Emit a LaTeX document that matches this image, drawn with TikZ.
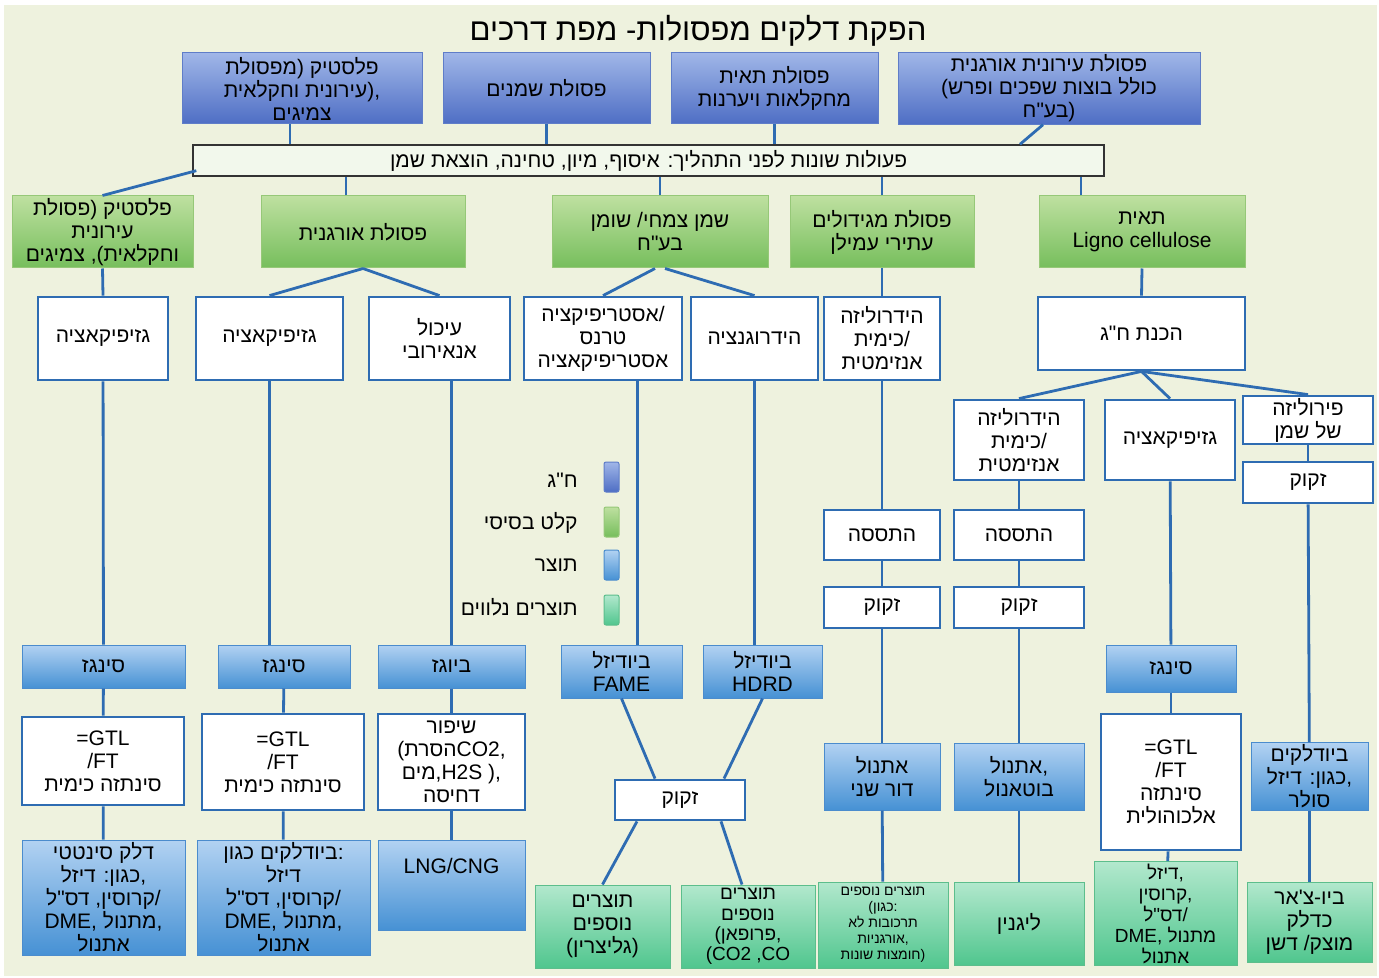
\documentclass[tikz,border=0pt]{standalone}
\usepackage{fontspec}
\newfontfamily\hebfont[Script=Hebrew]{Liberation Sans}
\newfontfamily\latfont{Liberation Sans}
\TeXXeTstate=1
\usetikzlibrary{calc}

\newcommand{\hebl}[1]{{\hebfont\beginR #1\endR}}

\definecolor{bgcol}{RGB}{238,242,222}
\definecolor{rawtop}{RGB}{160,182,232}
\definecolor{rawbot}{RGB}{78,110,196}
\definecolor{rawline}{RGB}{95,125,200}
\definecolor{feedtop}{RGB}{190,224,160}
\definecolor{feedbot}{RGB}{118,190,92}
\definecolor{feedline}{RGB}{150,200,120}
\definecolor{prodtop}{RGB}{178,210,242}
\definecolor{prodbot}{RGB}{70,145,212}
\definecolor{prodline}{RGB}{75,140,205}
\definecolor{sidetop}{RGB}{178,232,205}
\definecolor{sidebot}{RGB}{80,198,142}
\definecolor{sideline}{RGB}{92,190,140}
\definecolor{linkcol}{RGB}{46,108,178}
\definecolor{prepfill}{RGB}{242,248,236}

\begin{document}
\begin{tikzpicture}[x=0.5pt, y=-0.5pt,
  every node/.style={font=\latfont\fontsize{10.5}{11.5}\selectfont, align=center, inner sep=1pt, text=black},
  rawbox/.style={draw=rawline, line width=0.5pt, top color=rawtop, bottom color=rawbot},
  feedbox/.style={draw=feedline, line width=0.5pt, top color=feedtop, bottom color=feedbot},
  procbox/.style={draw=linkcol, line width=1.4pt, fill=white},
  prodbox/.style={draw=prodline, line width=0.5pt, top color=prodtop, bottom color=prodbot},
  sidebox/.style={draw=sideline, line width=0.5pt, top color=sidetop, bottom color=sidebot},
  swatch/.style={minimum width=7.5pt, minimum height=15pt, inner sep=0pt, rounded corners=1pt},
  legendtext/.style={anchor=east},
  link/.style={draw=linkcol, line width=1.4pt}
]

\useasboundingbox (0,0) rectangle (1379,978);
\fill[white] (0,0) rectangle (1379,978);
\fill[bgcol] (4,5) rectangle (1377,976);

\node[font=\latfont\fontsize{15.5}{17}\selectfont] (title) at (698,31) {\hebl{הפקת דלקים מפסולות- מפת דרכים}};

% raw material row
\node[rawbox, minimum width=120pt, minimum height=35.5pt] (rawplastic) at (302,88.5) {\hebl{פלסטיק (מפסולת}\\\hebl{עירונית וחקלאית}),\\\hebl{צמיגים}};
\node[rawbox, minimum width=103.5pt, minimum height=35.5pt] (rawoil) at (546.5,88.5) {\hebl{פסולת שמנים}};
\node[rawbox, minimum width=103.5pt, minimum height=35.5pt] (rawcellulose) at (774.5,88.5) {\hebl{פסולת תאית}\\\hebl{מחקלאות ויערנות}};
\node[rawbox, minimum width=151pt, minimum height=35.5pt] (raworganic) at (1049,88.5) {\hebl{פסולת עירונית אורגנית}\\(\hebl{כולל בוצות שפכים ופרש}\\\hebl{בע"ח})};

\node[draw=black!80, line width=0.7pt, fill=prepfill, minimum width=455.5pt, minimum height=15.5pt] (prep) at (648.5,160.5) {\hebl{פעולות שונות לפני התהליך: איסוף, מיון, טחינה, הוצאת שמן}};

% basic feed row
\node[feedbox, minimum width=90.5pt, minimum height=36pt] (inplastic) at (102.5,232) {\hebl{פלסטיק (פסולת}\\\hebl{עירונית}\\\hebl{וחקלאית), צמיגים}};
\node[feedbox, minimum width=102pt, minimum height=36pt] (inorganic) at (363,232) {\hebl{פסולת אורגנית}};
\node[feedbox, minimum width=108pt, minimum height=36pt] (inoil) at (660,232) {\hebl{שמן צמחי/ שומן}\\\hebl{בע"ח}};
\node[feedbox, minimum width=92pt, minimum height=36pt] (instarch) at (882,232) {\hebl{פסולת מגידולים}\\\hebl{עתירי עמילן}};
\node[feedbox, minimum width=103pt, minimum height=36pt] (incellulose) at (1142,232) {\hebl{תאית}\\Ligno cellulose};

% first process row
\node[procbox, minimum width=65pt, minimum height=41.5pt] (gasA) at (103,338.5) {\hebl{גזיפיקאציה}};
\node[procbox, minimum width=73.5pt, minimum height=41.5pt] (gasB) at (269.5,338.5) {\hebl{גזיפיקאציה}};
\node[procbox, minimum width=70.5pt, minimum height=41.5pt] (anaerobic) at (439.5,338.5) {\hebl{עיכול}\\\hebl{אנאירובי}};
\node[procbox, minimum width=79pt, minimum height=41.5pt] (ester) at (603,338.5) {\hebl{אסטריפיקציה}/\\\hebl{טרנס}\\\hebl{אסטריפיקאציה}};
\node[procbox, minimum width=63.5pt, minimum height=41.5pt] (hydrogen) at (754.5,338.5) {\hebl{הידרוגנציה}};
\node[procbox, minimum width=58pt, minimum height=41.5pt] (hydroA) at (882,338.5) {\hebl{הידרוליזה}\\\hebl{כימית}/\\\hebl{אנזימטית}};
\node[procbox, minimum width=103.5pt, minimum height=36.5pt] (prepcarb) at (1141.5,333.5) {\hebl{הכנת ח"ג}};

% cellulose branch
\node[procbox, minimum width=65pt, minimum height=40pt] (hydroB) at (1019,440) {\hebl{הידרוליזה}\\\hebl{כימית}/\\\hebl{אנזימטית}};
\node[procbox, minimum width=65pt, minimum height=40pt] (gasC) at (1170,440) {\hebl{גזיפיקאציה}};
\node[procbox, minimum width=65pt, minimum height=20pt] (pyro) at (1308,420) {\hebl{פירוליזה}\\\hebl{של שמן}};
\node[procbox, minimum width=65pt, minimum height=20.5pt] (refinePyro) at (1308,482.5) {\hebl{זקוק}};
\node[procbox, minimum width=58pt, minimum height=25pt] (fermA) at (882,535) {\hebl{התססה}};
\node[procbox, minimum width=65pt, minimum height=25pt] (fermB) at (1019,535) {\hebl{התססה}};
\node[procbox, minimum width=58pt, minimum height=20.5pt] (refineA) at (882,607.5) {\hebl{זקוק}};
\node[procbox, minimum width=65pt, minimum height=20.5pt] (refineB) at (1019,607.5) {\hebl{זקוק}};

% legend
\node[rawbox, swatch] (keyraw) at (611.5,477) {};
\node[feedbox, swatch] (keyfeed) at (611.5,522) {};
\node[prodbox, swatch] (keyprod) at (611.5,565) {};
\node[sidebox, swatch] (keyside) at (611.5,610) {};
\node[legendtext] (keyrawtext) at (580,480) {\hebl{ח"ג}};
\node[legendtext] (keyfeedtext) at (580,523) {\hebl{קלט בסיסי}};
\node[legendtext] (keyprodtext) at (580,565) {\hebl{תוצר}};
\node[legendtext] (keysidetext) at (580,607) {\hebl{תוצרים נלווים}};

% intermediate products
\node[prodbox, minimum width=81.5pt, minimum height=21.5pt] (syngasA) at (103.5,666.5) {\hebl{סינגז}};
\node[prodbox, minimum width=66pt, minimum height=21.5pt] (syngasB) at (284,666.5) {\hebl{סינגז}};
\node[prodbox, minimum width=73.5pt, minimum height=21.5pt] (biogas) at (451.5,666.5) {\hebl{ביוגז}};
\node[prodbox, minimum width=60.5pt, minimum height=26.5pt] (fame) at (621.5,671.5) {\hebl{ביודיזל}\\FAME};
\node[prodbox, minimum width=59.5pt, minimum height=26.5pt] (hdrd) at (762.5,671.5) {\hebl{ביודיזל}\\HDRD};
\node[prodbox, minimum width=65pt, minimum height=23.5pt] (syngasC) at (1171,668.5) {\hebl{סינגז}};

% synthesis row
\node[procbox, minimum width=81pt, minimum height=44pt] (gtlA) at (103,761) {=GTL\\/FT\\\hebl{סינתזה כימית}};
\node[procbox, minimum width=81pt, minimum height=48pt] (gtlB) at (283,762) {=GTL\\/FT\\\hebl{סינתזה כימית}};
\node[procbox, minimum width=73.5pt, minimum height=48pt] (upgrade) at (451.5,762) {\hebl{שיפור}\\(\hebl{הסרת}CO2,\\\hebl{מים},H2S ),\\\hebl{דחיסה}};
\node[procbox, minimum width=65pt, minimum height=20pt] (refineOil) at (680,800) {\hebl{זקוק}};
\node[prodbox, minimum width=58pt, minimum height=33.5pt] (ethanolA) at (882,776.5) {\hebl{אתנול}\\\hebl{דור שני}};
\node[prodbox, minimum width=65pt, minimum height=33.5pt] (ethanolB) at (1019,776.5) {\hebl{אתנול},\\\hebl{בוטאנול}};
\node[procbox, minimum width=70pt, minimum height=68pt] (gtlC) at (1171,782) {=GTL\\/FT\\\hebl{סינתזה}\\\hebl{אלכוהולית}};
\node[prodbox, minimum width=58.5pt, minimum height=33.5pt] (biofuelPyro) at (1309.5,776.5) {\hebl{ביודלקים}\\\hebl{כגון: דיזל},\\\hebl{סולר}};

% final products
\node[prodbox, minimum width=81.5pt, minimum height=57.5pt] (synfuel) at (103.5,897.5) {\hebl{דלק סינטטי}\\\hebl{כגון: דיזל},\\\hebl{קרוסין, דס"ל}/\\DME, \hebl{מתנול},\\\hebl{אתנול}};
\node[prodbox, minimum width=86.5pt, minimum height=57.5pt] (biofuelB) at (283.5,897.5) {\hebl{ביודלקים כגון}:\\\hebl{דיזל}\\\hebl{קרוסין, דס"ל}/\\DME, \hebl{מתנול},\\\hebl{אתנול}};
\node[prodbox, minimum width=73.5pt, minimum height=45pt] (lng) at (451.5,885) {LNG/CNG\\[8pt]};
\node[sidebox, minimum width=67.5pt, minimum height=41.5pt] (glycerin) at (602.5,926.5) {\hebl{תוצרים}\\\hebl{נוספים}\\(\hebl{גליצרין})};
\node[sidebox, minimum width=67pt, minimum height=41.5pt, font=\latfont\fontsize{9.5}{10.2}\selectfont] (propane) at (748,926.5) {\hebl{תוצרים}\\\hebl{נוספים}\\(\hebl{פרופאן},\\(CO2 ,CO};
\node[sidebox, minimum width=65pt, minimum height=43pt, font=\latfont\fontsize{7}{8}\selectfont] (extraA) at (883,925) {\hebl{תוצרים נוספים}\\(\hebl{כגון}:\\\hebl{תרכובות לא}\\\hebl{אורגניות},\\\hebl{חומצות שונות})};
\node[sidebox, minimum width=65pt, minimum height=41.5pt] (lignin) at (1019,923.5) {\hebl{ליגנין}};
\node[sidebox, minimum width=71.5pt, minimum height=51.5pt, font=\latfont\fontsize{9.5}{10.5}\selectfont] (fuelsC) at (1165.5,913.5) {\hebl{דיזל},\\\hebl{קרוסין},\\\hebl{דס"ל}/\\DME, \hebl{מתנול}\\\hebl{אתנול}};
\node[sidebox, minimum width=62.5pt, minimum height=40pt] (biochar) at (1309.5,922) {\hebl{ביו-צ'אר}\\\hebl{כדלק}\\\hebl{מוצק/ דשן}};

% connectors
\draw[link] ($(rawplastic.south)+(-12,0)$) -- ($(rawplastic.south |- prep.north)+(-12,0)$);
\draw[link] (rawoil.south) -- (rawoil.south |- prep.north);
\draw[link] (rawcellulose.south) -- (rawcellulose.south |- prep.north);
\draw[link] ($(raworganic.south)+(-6,0)$) -- ($(raworganic.south |- prep.north)+(-29,0)$);
\draw[link] ($(prep.south west)+(4,-6)$) -- (inplastic.north);
\draw[link] ($(inorganic.north)+(-17,0)$) -- ($(inorganic.north |- prep.south)+(-17,0)$);
\draw[link] (inoil.north) -- (inoil.north |- prep.south);
\draw[link] (instarch.north) -- (instarch.north |- prep.south);
\draw[link] ($(incellulose.north)+(-61,0)$) -- ($(incellulose.north |- prep.south)+(-61,0)$);

\draw[link] (inplastic.south) -- (gasA.north);
\draw[link] (inorganic.south) -- (gasB.north);
\draw[link] (inorganic.south) -- (anaerobic.north);
\draw[link] ($(inoil.south)+(-5,0)$) -- (ester.north);
\draw[link] ($(inoil.south)+(5,0)$) -- (hydrogen.north);
\draw[link] (instarch.south) -- (hydroA.north);
\draw[link] (incellulose.south) -- (prepcarb.north);
\draw[link] (prepcarb.south) -- (hydroB.north);
\draw[link] (prepcarb.south) -- (gasC.north);
\draw[link] (prepcarb.south) -- (pyro.north);
\draw[link] (pyro) -- (refinePyro);

\draw[link] (gasA) -- (syngasA);
\draw[link] (gasB.south) -- (gasB.south |- syngasB.north);
\draw[link] (biogas.north |- anaerobic.south) -- (biogas.north);
\draw[link] ($(fame.north |- ester.south)+(16,0)$) -- ($(fame.north)+(16,0)$);
\draw[link] (hydrogen.south) -- (hydrogen.south |- hdrd.north);
\draw[link] (hydroA) -- (fermA);
\draw[link] (fermA) -- (refineA);
\draw[link] (refineA) -- (ethanolA);
\draw[link] (ethanolA) -- (extraA);
\draw[link] (hydroB) -- (fermB);
\draw[link] (fermB) -- (refineB);
\draw[link] (refineB) -- (ethanolB);
\draw[link] (ethanolB) -- (lignin);
\draw[link] (gasC) -- (syngasC);
\draw[link] (syngasC) -- (gtlC);
\draw[link] (gtlC) -- (fuelsC);
\draw[link] (refinePyro) -- (biofuelPyro);
\draw[link] (biofuelPyro) -- (biochar);

\draw[link] (syngasA) -- (gtlA);
\draw[link] (gtlA) -- (synfuel);
\draw[link] (syngasB) -- (gtlB);
\draw[link] (gtlB) -- (biofuelB);
\draw[link] (biogas) -- (upgrade);
\draw[link] (upgrade) -- (lng);
\draw[link] (fame.south) -- ($(refineOil.north)+(-25,0)$);
\draw[link] (hdrd.south) -- ($(refineOil.north)+(44,0)$);
\draw[link] ($(refineOil.south)+(-43,0)$) -- (glycerin.north);
\draw[link] ($(refineOil.south)+(41,0)$) -- ($(propane.north)+(-6,0)$);

\end{tikzpicture}
\end{document}
